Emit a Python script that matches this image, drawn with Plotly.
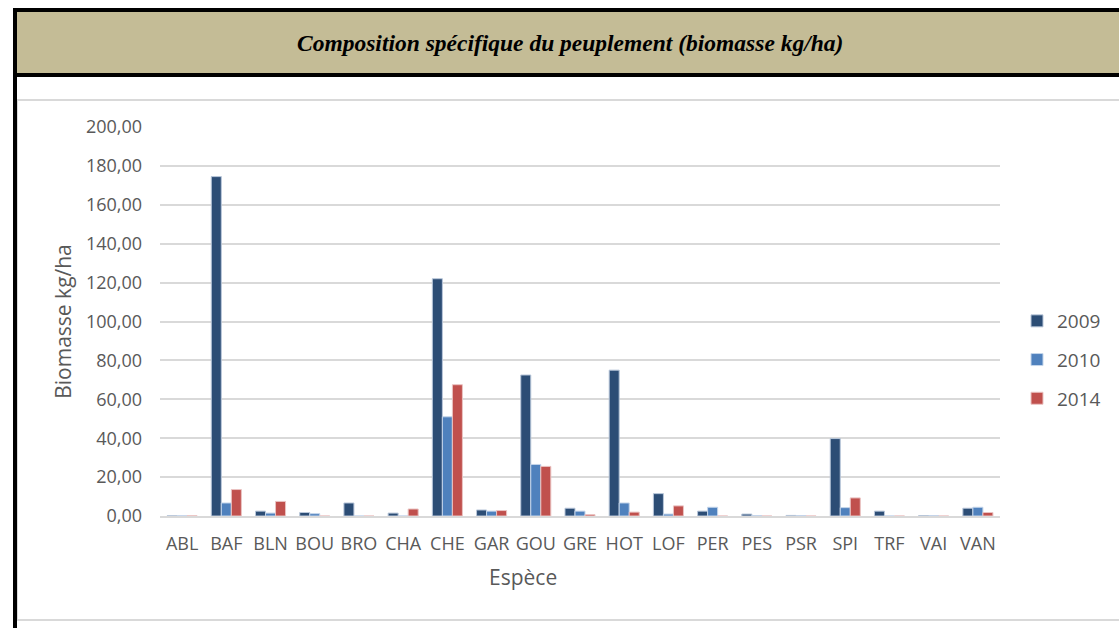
import plotly.graph_objects as go

W, H = 1119, 628

especes = ["ABL", "BAF", "BLN", "BOU", "BRO", "CHA", "CHE", "GAR", "GOU", "GRE",
           "HOT", "LOF", "PER", "PES", "PSR", "SPI", "TRF", "VAI", "VAN"]
annees = ["2009", "2010", "2014"]
biomasse_2009 = [0.1, 174.5, 2.5, 1.8, 6.7, 1.5, 122.0, 3.1, 72.5, 4.0,
                 75.0, 11.5, 2.5, 1.0, 0.3, 39.8, 2.5, 0.2, 4.0]
biomasse_2010 = [0.1, 6.7, 1.5, 1.2, 0.0, 0.0, 51.0, 2.5, 26.5, 2.5,
                 6.7, 1.0, 4.5, 0.2, 0.2, 4.3, 0.0, 0.2, 4.5]
biomasse_2014 = [0.1, 13.6, 7.5, 0.0, 0.0, 3.6, 67.5, 2.8, 25.5, 0.7,
                 2.0, 5.2, 0.0, 0.0, 0.0, 9.3, 0.0, 0.0, 1.8]
couleurs = ["#2C4D75", "#4F81BD", "#C0504D"]
bordures = ["#B9C7DA", "#C4D5EA", "#EAC3C2"]
series = [biomasse_2009, biomasse_2010, biomasse_2014]


def px_x(x):
    return x / W


def px_y(y):
    return 1 - y / H


fig = go.Figure()
for nom, vals, c, b in zip(annees, series, couleurs, bordures):
    fig.add_trace(go.Bar(
        x=especes, y=vals, name=nom, legendgroup=nom,
        marker=dict(color=c, line=dict(color=b, width=1)),
    ))

axis_font = dict(family="Open Sans, Liberation Sans, sans-serif", size=18, color="#595959")

fig.update_layout(
    width=W, height=H,
    margin=dict(l=0, r=0, t=0, b=0, autoexpand=False),
    paper_bgcolor="white", plot_bgcolor="white",
    barmode="group", bargap=0.32, bargroupgap=0.0,
    separators=", ",
    font=axis_font,
    xaxis=dict(
        domain=[px_x(160), px_x(1000)],
        showline=True, linecolor="#D9D9D9", linewidth=2,
        ticks="", tickfont=axis_font, automargin=False,
        ticklabelstandoff=10,
    ),
    yaxis=dict(
        domain=[px_y(516), px_y(127)],
        range=[0, 200], dtick=20, tickformat=".2f",
        showgrid=True, gridcolor="#D9D9D9", gridwidth=1.5,
        zeroline=False, ticks="", tickfont=axis_font, automargin=False,
        ticklabelstandoff=17,
        title=dict(text="Biomasse kg/ha", font=dict(size=21, color="#595959"), standoff=8),
    ),
    legend=dict(
        x=px_x(1017), y=px_y(302), xanchor="left", yanchor="top",
        font=dict(size=19, color="#595959"),
        traceorder="grouped", tracegroupgap=11,
        bgcolor="rgba(0,0,0,0)",
    ),
    showlegend=True,
)

shapes = [
    # chart frame
    dict(type="rect", xref="paper", yref="paper",
         x0=px_x(17), x1=px_x(1125), y0=px_y(620), y1=px_y(100),
         line=dict(color="#D9D9D9", width=2), fillcolor="rgba(0,0,0,0)", layer="below"),
    # title band
    dict(type="rect", xref="paper", yref="paper",
         x0=px_x(15), x1=px_x(1125), y0=px_y(75), y1=px_y(10),
         line=dict(color="black", width=4), fillcolor="#C4BC96", layer="above"),
    # left border rule
    dict(type="line", xref="paper", yref="paper",
         x0=px_x(15), x1=px_x(15), y0=px_y(628), y1=px_y(10),
         line=dict(color="black", width=4)),
]
fig.update_layout(shapes=shapes)

fig.add_annotation(
    xref="paper", yref="paper", x=px_x(570), y=px_y(43),
    text="<b><i>Composition spécifique du peuplement (biomasse kg/ha)</i></b>",
    showarrow=False, xanchor="center", yanchor="middle",
    font=dict(family="Liberation Serif, DejaVu Serif, serif", size=23.5, color="black"),
)

# x-axis title, centred on the chart area
fig.add_annotation(
    xref="paper", yref="paper", x=px_x(523), y=px_y(577),
    text="Espèce", showarrow=False, xanchor="center", yanchor="middle",
    font=dict(size=21, color="#595959"),
)

fig.write_html("out.html")
